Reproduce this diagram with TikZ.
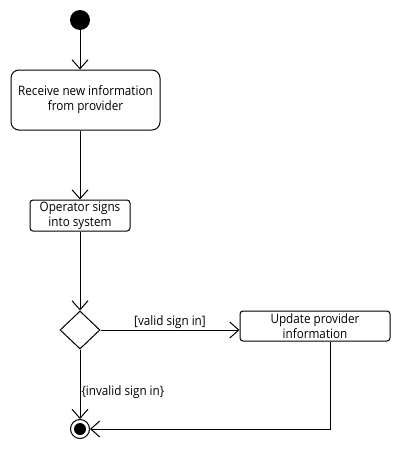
\documentclass[tikz,border=0pt]{standalone}
\usepackage{fontspec}
\setmainfont{Open Sans}[FakeStretch=0.9]
\usetikzlibrary{shapes.geometric,arrows.meta}
\begin{document}
\begin{tikzpicture}[x=1pt,y=-1pt,
  every node/.style={font=\fontsize{13}{15}\selectfont},
  act/.style={draw,line width=1pt,rounded corners=#1,align=center,inner sep=0pt},
  flow/.style={line width=1pt,-{Straight Barb[length=9pt,width=16pt,line width=1pt]}},
  lbl/.style={inner sep=1pt}]
\useasboundingbox (0,0) rectangle (400,460);
\node[circle,fill=black,minimum size=20pt,inner sep=0pt] (start) at (80,20) {};
\node[act=8pt,minimum width=149pt,minimum height=60pt] (recv) at (85.5,100) {Receive new information\\from provider};
\node[act=3pt,minimum width=100pt,minimum height=31pt] (sign) at (80,215.5) {Operator signs\\into system};
\node[diamond,draw,line width=1pt,minimum width=40pt,minimum height=38pt,inner sep=0pt] (dec) at (80,330) {};
\node[act=3pt,minimum width=150pt,minimum height=30pt] (upd) at (315,326) {Update provider\\information};
\node[circle,draw,line width=1pt,minimum size=19pt,inner sep=0pt] (end) at (80,429) {};
\node[circle,fill=black,minimum size=12pt,inner sep=0pt] at (end) {};
\draw[flow] (start) -- (recv.north -| start);
\draw[flow] (recv.south -| start) -- (sign);
\draw[flow] (sign) -- (dec);
\draw[flow] (dec) -- node[lbl,above] {[valid sign in]} (upd.west |- dec);
\draw[flow] (dec) -- node[lbl,right,yshift=-8pt] {\{invalid sign in\}} (end);
\coordinate (corner) at (330,429);
\draw[flow] (upd.south -| corner) -- (corner) -- (end);
\end{tikzpicture}
\end{document}
